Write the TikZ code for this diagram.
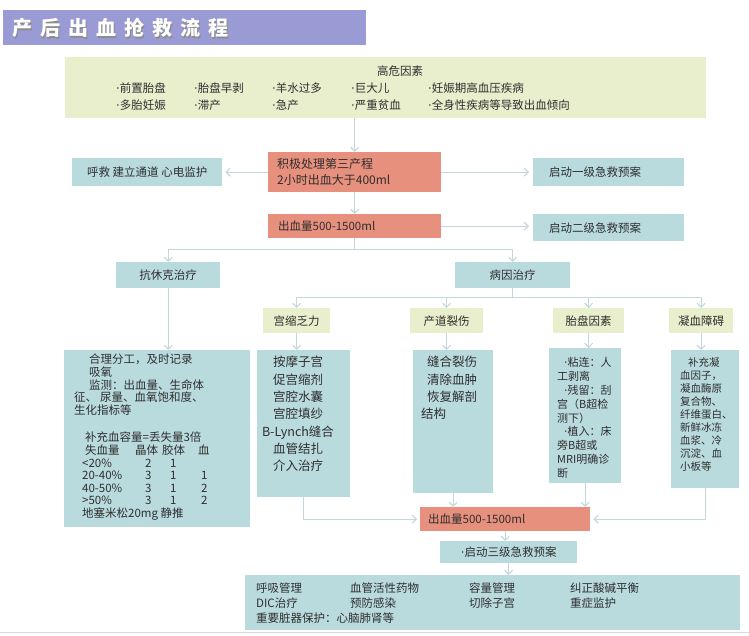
\documentclass[tikz,border=0pt]{standalone}
\usepackage{xcolor}
\definecolor{9a9ad5}{HTML}{9A9AD5}
\definecolor{e8907e}{HTML}{E8907E}
\definecolor{badbde}{HTML}{BADBDE}
\definecolor{e9eecd}{HTML}{E9EECD}
\definecolor{c4d8dc}{HTML}{C4D8DC}
\definecolor{2e2e2e}{HTML}{2E2E2E}
\usepackage{fontspec}
\setmainfont{Noto Sans CJK SC}
\newfontfamily\dotfont{DejaVu Sans}
\usepackage{tikz}
\usetikzlibrary{arrows.meta}

\newcommand{\cell}[2]{\makebox[#1][l]{#2}}
\newcommand{\mdot}{{\dotfont ·}}

\tikzset{
    box/.style={rectangle, inner sep=0pt, text=2e2e2e, font=\fontsize{11.5}{14}\selectfont},
    redbox/.style={box, fill=e8907e},
    bluebox/.style={box, fill=badbde},
    greenbox/.style={box, fill=e9eecd},
    boxtext/.style={inner sep=0pt, text=2e2e2e, align=left},
    titletext/.style={anchor=west, inner sep=0pt, font=\fontsize{20}{24}\selectfont\bfseries\addfontfeature{LetterSpace=40}},
    link/.style={draw=c4d8dc, line width=1.1pt},
    arr/.style={link, -{Straight Barb[length=4pt, width=8pt]}},
}

\begin{document}
\begin{tikzpicture}[x=1pt, y=-1pt]
            \useasboundingbox (0,0) rectangle (749,635);

            \node[box, fill=9a9ad5, minimum width=363pt, minimum height=35pt, anchor=north west] (banner) at (3,10) {};
            \node[titletext, text=black!45] (shade) at (13.5,29.5) {产后出血抢救流程};
            \node[titletext, text=white] (title) at (12,28) {产后出血抢救流程};

            \node[greenbox, minimum height=61pt, text width=539pt, inner xsep=51pt, align=left, anchor=north west,
                font=\fontsize{11.5}{17}\selectfont] (risk) at (65,57) {\hspace*{261pt}高危因素\\
                \cell{78pt}{\mdot{}前置胎盘}\cell{78pt}{\mdot{}胎盘早剥}\cell{79pt}{\mdot{}羊水过多}\cell{77pt}{\mdot{}巨大儿}\mdot{}妊娠期高血压疾病\\
                \cell{78pt}{\mdot{}多胎妊娠}\cell{78pt}{\mdot{}滞产}\cell{79pt}{\mdot{}急产}\cell{77pt}{\mdot{}严重贫血}\mdot{}全身性疾病等导致出血倾向};

            \node[redbox, minimum height=40pt, text width=155pt, inner xsep=9pt, align=left, anchor=north west,
                font=\fontsize{12}{16}\selectfont] (jiji) at (268,152) {积极处理第三产程\\2小时出血大于400ml};
            \node[bluebox, minimum width=150pt, minimum height=28pt, anchor=north west] (huju) at (72,158) {呼救 建立通道 心电监护};
            \node[bluebox, minimum height=28pt, text width=119pt, inner xsep=16pt, align=left, anchor=north west] (yiji) at (533,158) {启动一级急救预案};
            \node[redbox, minimum height=24pt, text width=153pt, inner xsep=10pt, align=left, anchor=north west] (chuxue1) at (268,214) {出血量500-1500ml};
            \node[bluebox, minimum height=27pt, text width=119pt, inner xsep=16pt, align=left, anchor=north west] (erji) at (533,214) {启动二级急救预案};

            \node[bluebox, minimum width=104pt, minimum height=26pt, anchor=north west] (kangxiu) at (116,262) {抗休克治疗};
            \node[bluebox, minimum width=115pt, minimum height=26pt, anchor=north west] (bingyin) at (455,262) {病因治疗};

            \node[greenbox, minimum width=67pt, minimum height=25pt, anchor=north west] (gongsuo) at (263,308) {宫缩乏力};
            \node[greenbox, minimum width=73pt, minimum height=25pt, anchor=north west] (chandao) at (410,308) {产道裂伤};
            \node[greenbox, minimum width=71pt, minimum height=25pt, anchor=north west] (taipan) at (553,308) {胎盘因素};
            \node[greenbox, minimum width=64pt, minimum height=25pt, anchor=north west] (ningxue) at (669,308) {凝血障碍};

            % detail boxes, text set on top
            \node[bluebox, minimum width=186pt, minimum height=177pt, anchor=north west] (shockd) at (64,350) {};
            \node[boxtext, anchor=north west, font=\fontsize{11.5}{12.6}\selectfont] (shockt) at (74,354) {%
                \hspace*{15pt}合理分工，及时记录\\
                \hspace*{15pt}吸氧\\
                \hspace*{15pt}监测：出血量、生命体\\
                征、\hspace*{3pt}尿量、血氧饱和度、\\
                生化指标等\\[15pt]
                \hspace*{11pt}补充血容量=丢失量3倍\\
                \hspace*{11pt}\cell{50pt}{失血量}\cell{27pt}{晶体}\cell{36pt}{胶体}血\\
                \hspace*{8pt}\cell{63pt}{<20\%}\cell{25pt}{2}1\\
                \hspace*{8pt}\cell{63pt}{20-40\%}\cell{25pt}{3}\cell{31pt}{1}1\\
                \hspace*{8pt}\cell{63pt}{40-50\%}\cell{25pt}{3}\cell{31pt}{1}2\\
                \hspace*{8pt}\cell{63pt}{>50\%}\cell{25pt}{3}\cell{31pt}{1}2\\
                \hspace*{8pt}地塞米松20mg 静推};

            \node[bluebox, minimum width=93pt, minimum height=147pt, anchor=north west] (gongd) at (257,350) {};
            \node[boxtext, align=center, anchor=north, font=\fontsize{12.5}{17.3}\selectfont] (gongt) at (298,356)
                {按摩子宫\\促宫缩剂\\宫腔水囊\\宫腔填纱\\B-Lynch缝合\\血管结扎\\介入治疗};

            \node[bluebox, minimum width=80pt, minimum height=143pt, anchor=north west] (chand) at (413,350) {};
            \node[boxtext, anchor=north west, font=\fontsize{12.5}{17.3}\selectfont] (chant) at (421,356)
                {\hspace*{6pt}缝合裂伤\\\hspace*{6pt}清除血肿\\\hspace*{6pt}恢复解剖\\结构};

            \node[bluebox, minimum width=72pt, minimum height=135pt, anchor=north west] (taid) at (549,348) {};
            \node[boxtext, anchor=north west, font=\fontsize{11}{13.9}\selectfont] (tait) at (557,357)
                {\hspace*{7pt}\mdot{}粘连：人\\工剥离\\\hspace*{7pt}\mdot{}残留：刮\\宫（B超检\\测下）\\\hspace*{7pt}\mdot{}植入：床\\旁B超或\\MRI明确诊\\断};

            \node[bluebox, minimum width=68pt, minimum height=138pt, anchor=north west] (ningd) at (671,350) {};
            \node[boxtext, anchor=north west, font=\fontsize{10.5}{13}\selectfont] (ningt) at (680,357)
                {\hspace*{8pt}补充凝\\血因子，\\凝血酶原\\复合物、\\纤维蛋白、\\新鲜冰冻\\血浆、冷\\沉淀、血\\小板等};

            \node[redbox, minimum height=24pt, text width=154pt, inner xsep=8pt, align=left, anchor=north west] (chuxue2) at (420,507) {出血量500-1500ml};
            \node[bluebox, minimum width=137pt, minimum height=22pt, anchor=north west] (sanji) at (440,541) {\mdot{}启动三级急救预案};
            \node[bluebox, minimum height=55pt, text width=473pt, inner xsep=11pt, align=left, anchor=north west,
                font=\fontsize{11.5}{15}\selectfont] (final) at (245,575) {%
                \cell{94pt}{呼吸管理}\cell{119pt}{血管活性药物}\cell{101pt}{容量管理}纠正酸碱平衡\\
                \cell{94pt}{DIC治疗}\cell{119pt}{预防感染}\cell{101pt}{切除子宫}重症监护\\
                重要脏器保护：心脑肺肾等};

            \draw[black!15, line width=1.2pt] (0,632.5) -- (749,632.5);

            \draw[arr] (risk.south -| jiji.north) -- (jiji.north);
            \draw[arr, shorten >=3pt] (jiji.west) -- (huju.east);
            \draw[arr, shorten >=4pt] (jiji.east) -- (yiji.west);
            \draw[arr] (jiji.south) -- (chuxue1.north);
            \draw[arr, shorten >=4pt] (chuxue1.east) -- (chuxue1.east -| erji.west);

            \draw[link] (chuxue1.south) -- ++(0,11) coordinate (bus1);
            \draw[arr] (bus1) -| (kangxiu.north);
            \draw[arr] (bus1) -| (bingyin.north);
            \draw[link] (bingyin.south) -- ++(0,9) coordinate (bus2);
            \draw[arr] (bus2) -| (gongsuo.north);
            \draw[arr] (bus2) -| (chandao.north);
            \draw[arr] (bus2) -| (taipan.north);
            \draw[arr] (bus2) -| (ningxue.north);

            \draw[arr] (kangxiu.south) -- (kangxiu.south |- shockd.north);
            \draw[arr] (gongsuo.south) -- (gongsuo.south |- gongd.north);
            \draw[arr] (chandao.south) -- (chandao.south |- chand.north);
            \draw[arr] (taipan.south) -- (taipan.south |- taid.north);
            \draw[arr] (ningxue.south) -- (ningxue.south |- ningd.north);

            \draw[arr, shorten >=3pt] (gongd.south) |- (chuxue2.west);
            \draw[arr] (chand.south) -- (chand.south |- chuxue2.north);
            \draw[arr] (taid.south) -- (taid.south |- chuxue2.north);
            \draw[arr, shorten >=3pt] (ningd.south) |- (chuxue2.east);
            \draw[arr] (chuxue2.south) -- (chuxue2.south |- sanji.north);
            \draw[arr] (sanji.south) -- (sanji.south |- final.north);
        \end{tikzpicture}
\end{document}
